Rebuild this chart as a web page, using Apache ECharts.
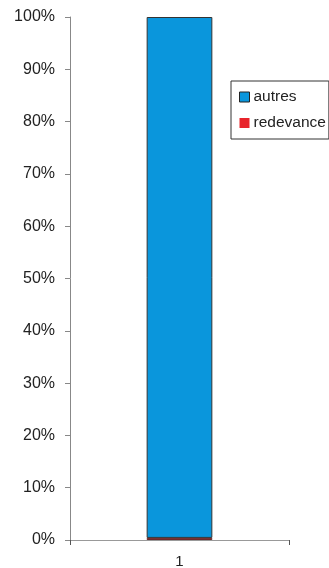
<!DOCTYPE html>
<html>
<head>
<meta charset="utf-8">
<script src="https://cdn.jsdelivr.net/npm/echarts@6/dist/echarts.min.js"></script>
<style>
  html, body { margin: 0; padding: 0; background: #fff; }
  #chart { width: 329px; height: 568px; }
</style>
</head>
<body>
<div id="chart"></div>
<script>
// données du graphique
const categories = ["1"];
const redevance = [0.4];
const autres = [99.6];
const yTicks = [0, 10, 20, 30, 40, 50, 60, 70, 80, 90, 100];

(function () {
  const myChart = echarts.init(document.getElementById("chart"));
  const font = "Liberation Sans, Arial, sans-serif";
  const option = {
    animation: false,
    textStyle: { fontFamily: font },
    legend: {
      orient: "vertical",
      left: 231,
      top: 81,
      padding: [8, 3, 8, 8],
      itemGap: 10,
      itemWidth: 10,
      itemHeight: 10,
      borderColor: "#333",
      borderWidth: 1,
      icon: "rect",
      data: [
        { name: "autres", itemStyle: { borderColor: "#222", borderWidth: 1 } },
        { name: "redevance", itemStyle: { borderWidth: 0 } },
      ],
      textStyle: { color: "#222", fontSize: 15.5, fontFamily: font, padding: [0, 0, 0, -1] },
    },
    grid: {
      left: 70,
      right: 40,
      top: 17,
      bottom: 28,
      outerBoundsMode: "none",
    },
    xAxis: {
      type: "category",
      data: categories,
      axisLine: { lineStyle: { color: "#999" } },
      axisTick: { show: true, length: 5, lineStyle: { color: "#555" } },
      axisLabel: { color: "#222", fontSize: 15, margin: 14 },
    },
    yAxis: {
      type: "value",
      min: 0,
      max: 100,
      interval: 10,
      axisLine: { show: true, lineStyle: { color: "#888" } },
      axisTick: { show: true, inside: false, length: 5, lineStyle: { color: "#888" } },
      splitLine: { show: false },
      axisLabel: {
        color: "#222",
        fontSize: 16,
        margin: 15,
        formatter: function (v) {
          return yTicks.indexOf(v) >= 0 ? v + "%" : "";
        },
      },
    },
    series: [
      {
        name: "redevance",
        type: "bar",
        stack: "total",
        data: redevance,
        barWidth: "30%",
        itemStyle: { color: "#e8242b", borderColor: "#6b2a2a", borderWidth: 1 },
      },
      {
        name: "autres",
        type: "bar",
        stack: "total",
        data: autres,
        barWidth: "30%",
        itemStyle: { color: "#0a96dc", borderColor: "#333", borderWidth: 1 },
      },
    ],
  };
  myChart.setOption(option);

  window.addEventListener("resize", function () {
    myChart.resize();
  });
})();
</script>
</body>
</html>
